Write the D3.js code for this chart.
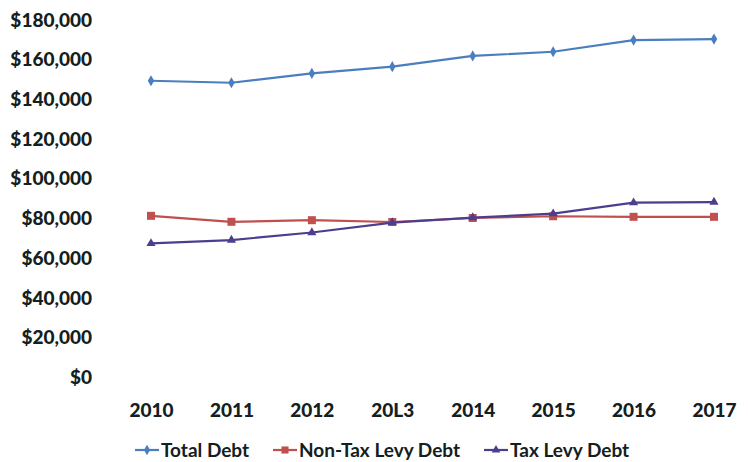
<!DOCTYPE html>
<html>
<head>
<meta charset="utf-8">
<script src="https://cdn.jsdelivr.net/npm/d3@7"></script>
<style>
  body { margin: 0; background: #fff; }
  svg { display: block; font-family: Lato, "Open Sans", sans-serif; font-weight: 700; }
</style>
</head>
<body>
<svg id="chart"></svg>
<script>
// Data (dollars)
const years = ['2010', '2011', '2012', '20L3', '2014', '2015', '2016', '2017'];
const totalDebt = [149400, 148400, 153100, 156500, 161900, 164000, 169900, 170400];
const nonTaxLevyDebt = [81400, 78400, 79200, 78300, 80300, 81200, 80900, 80900];
const taxLevyDebt = [67500, 69200, 73000, 78000, 80500, 82500, 88000, 88300];
const yTicks = [0, 20000, 40000, 60000, 80000, 100000, 120000, 140000, 160000, 180000];

const seriesNames = ['Total Debt', 'Non-Tax Levy Debt', 'Tax Levy Debt'];
const seriesColors = ['#4a7ebf', '#c0504d', '#4e3d8f'];
const seriesShapes = [d3.symbolDiamond, d3.symbolSquare, d3.symbolTriangle];

const W = 748, H = 462;

const svg = d3.select('#chart')
    .attr('width', W)
    .attr('height', H);

// Scales
const xScale = d3.scalePoint()
    .domain(years)
    .range([151, 714]);

const yScale = d3.scaleLinear()
    .domain([0, 180000])
    .range([377.5, 20]);

// Y axis (labels only, no line)
const yAxis = svg.append('g')
    .attr('transform', 'translate(97,0)')
    .call(d3.axisLeft(yScale)
        .tickValues(yTicks)
        .tickSize(0)
        .tickPadding(5)
        .tickFormat(d => '$' + d3.format(',')(d)));
yAxis.select('.domain').remove();
yAxis.selectAll('text')
    .attr('fill', '#142020')
    .style('font-size', '19px')
    .style('font-family', 'Lato, sans-serif')
    .style('font-weight', 900);

// X axis (labels only)
const xAxis = svg.append('g')
    .attr('transform', `translate(0,${yScale(0)})`)
    .call(d3.axisBottom(xScale).tickSize(0).tickPadding(26));
xAxis.select('.domain').remove();
xAxis.selectAll('text')
    .attr('fill', '#142020')
    .style('font-size', '19px')
    .style('font-family', 'Lato, sans-serif')
    .style('font-weight', 900);

// Lines
const seriesData = [totalDebt, nonTaxLevyDebt, taxLevyDebt];
const line = d3.line()
    .x((d, i) => xScale(years[i]))
    .y(d => yScale(d));

seriesData.forEach((values, s) => {
    svg.append('path')
        .datum(values)
        .attr('fill', 'none')
        .attr('stroke', seriesColors[s])
        .attr('stroke-width', 2.2)
        .attr('d', line);

    svg.selectAll('.marker-' + s)
        .data(values)
        .enter()
        .append('path')
        .attr('class', 'marker-' + s)
        .attr('transform', (d, i) => `translate(${xScale(years[i])},${yScale(d)})`)
        .attr('d', d3.symbol().type(seriesShapes[s]).size(s === 1 ? 64 : 36))
        .attr('fill', seriesColors[s]);
});

// Legend
const legendX = [135, 273, 484];
const legendY = 450;
const legend = svg.append('g');
seriesNames.forEach((name, s) => {
    const g = legend.append('g').attr('transform', `translate(${legendX[s]},${legendY})`);
    g.append('line')
        .attr('x1', 0).attr('x2', 24)
        .attr('stroke', seriesColors[s])
        .attr('stroke-width', 2.2);
    g.append('path')
        .attr('transform', 'translate(12,0)')
        .attr('d', d3.symbol().type(seriesShapes[s]).size(s === 1 ? 50 : 32))
        .attr('fill', seriesColors[s]);
    g.append('text')
        .attr('x', 26)
        .attr('dy', '0.35em')
        .attr('fill', '#142020')
        .style('font-size', '19px')
        .text(name);
});
</script>
</body>
</html>
